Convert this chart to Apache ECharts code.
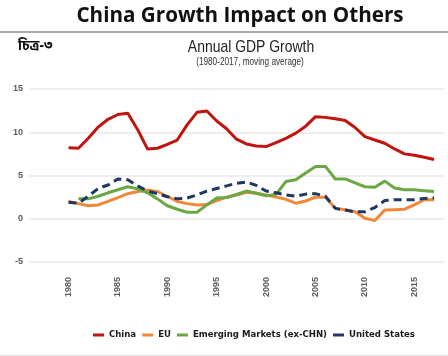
<!DOCTYPE html>
<html>
<head>
<meta charset="utf-8">
<script src="https://cdn.jsdelivr.net/npm/echarts@6/dist/echarts.min.js"></script>
<style>
html,body{margin:0;padding:0;background:#fff;}
#c{width:448px;height:356px;}
</style>
</head>
<body>
<div id="c"></div>
<script>
// ---- data ----
const years = [1980,1981,1982,1983,1984,1985,1986,1987,1988,1989,
               1990,1991,1992,1993,1994,1995,1996,1997,1998,1999,
               2000,2001,2002,2003,2004,2005,2006,2007,2008,2009,
               2010,2011,2012,2013,2014,2015,2016,2017];
const china = [8.2,8.15,9.3,10.6,11.5,12.05,12.2,10.3,8.05,8.15,
               8.6,9.1,10.85,12.3,12.45,11.3,10.4,9.2,8.65,8.4,
               8.35,8.8,9.3,9.9,10.7,11.8,11.72,11.57,11.35,10.55,
               9.5,9.1,8.73,8.07,7.5,7.35,7.1,6.84];
const eu = [2.0,1.75,1.5,1.6,2.0,2.45,2.9,3.15,3.3,3.15,
            2.6,2.0,1.75,1.6,1.65,2.1,2.5,2.75,3.05,2.95,
            2.75,2.5,2.25,1.8,2.05,2.5,2.5,1.2,1.05,0.8,
            0.05,-0.2,1.0,1.05,1.1,1.6,2.2,2.2];
const emerging = [null,2.3,2.3,2.6,3.0,3.35,3.7,3.45,3.0,2.3,
                  1.5,1.1,0.75,0.75,1.6,2.4,2.45,2.8,3.2,2.95,
                  2.65,2.8,4.3,4.5,5.3,6.05,6.05,4.6,4.6,4.15,
                  3.7,3.65,4.35,3.55,3.35,3.35,3.25,3.15];
const us = [1.9,1.8,2.6,3.5,3.9,4.6,4.5,3.8,3.2,2.9,
            2.55,2.3,2.4,2.75,3.2,3.5,3.8,4.1,4.25,3.85,
            3.2,3.0,2.75,2.6,2.85,2.9,2.6,1.2,1.0,0.8,
            0.8,1.3,2.1,2.2,2.2,2.2,2.35,2.4];
const xTickLabels = ['1980','1985','1990','1995','2000','2005','2010','2015'];
const yTicks = {min:-5, max:15, interval:5};
const seriesNames = ['China','EU','Emerging Markets (ex-CHN)','United States'];

// axis spans a little before the first and after the last year
const axisCats = [];
for (let y = years[0] - 4; y <= years[years.length - 1] + 1; y++) axisCats.push(String(y));
function pad(arr){
  const m = {};
  years.forEach((y,i)=>{ m[String(y)] = arr[i]; });
  return axisCats.map(c => (c in m) ? m[c] : null);
}

const SANS = "'Liberation Sans', Arial, sans-serif";
const COND = "'DejaVu Sans Condensed', 'Liberation Sans', sans-serif";
const chart = echarts.init(document.getElementById('c'));
chart.setOption({
  animation:false,
  backgroundColor:'#fff',
  grid:{left:29,right:4,top:89,bottom:94,containLabel:false,outerBoundsMode:'none'},
  xAxis:{
    type:'category', data:axisCats, boundaryGap:false,
    axisLine:{show:false}, axisTick:{show:false},
    axisLabel:{
      rotate:90, margin:15, fontSize:9, fontWeight:'bold', color:'#5a5a5a',
      fontFamily:SANS,
      interval:function(i,v){ return xTickLabels.indexOf(v) >= 0; }
    },
    splitLine:{show:false}
  },
  yAxis:{
    type:'value', min:yTicks.min, max:yTicks.max, interval:yTicks.interval,
    name:'%', nameLocation:'middle', nameGap:22, nameRotate:90,
    nameTextStyle:{fontSize:11, color:'#666', fontFamily:SANS},
    axisLine:{show:false}, axisTick:{show:false},
    axisLabel:{fontSize:9, fontWeight:'bold', color:'#5a5a5a', margin:6, fontFamily:SANS},
    splitLine:{lineStyle:{color:'#e8e8ee', width:1.5}}
  },
  legend:{
    data:seriesNames, left:93, top:330, width:440, padding:0, icon:'rect',
    itemWidth:11, itemHeight:3, itemGap:6,
    textStyle:{fontFamily:COND, fontWeight:'bold', fontSize:9.5, color:'#1a1a1a'}
  },
  series:[
    {name:seriesNames[0], type:'line', data:pad(china), symbol:'none', color:'#c0150f',
     lineStyle:{width:3, color:'#c0150f'}},
    {name:seriesNames[1], type:'line', data:pad(eu), symbol:'none', color:'#f0883a',
     lineStyle:{width:3, color:'#f0883a'}},
    {name:seriesNames[2], type:'line', data:pad(emerging), symbol:'none', color:'#6aa843',
     lineStyle:{width:3, color:'#6aa843'}},
    {name:seriesNames[3], type:'line', data:pad(us), symbol:'none', color:'#1f3763',
     lineStyle:{width:3, color:'#1f3763', type:[8,5]}}
  ],
  graphic:[
    {type:'text', x:240, y:16, scaleX:0.96, style:{text:'China Growth Impact on Others', textAlign:'center',
      textVerticalAlign:'middle', fill:'#111', font:"bold 21.5px 'Open Sans', sans-serif"}},
    {type:'line', shape:{x1:0,y1:32,x2:448,y2:32}, style:{stroke:'#8f8f8f', lineWidth:1.5}},
    {type:'text', x:18, y:47, style:{text:'চিত্র-৩', textAlign:'left', textVerticalAlign:'middle',
      fill:'#111', font:"bold 14px 'Noto Sans Bengali','Lohit Bengali','Noto Sans', sans-serif"}},
    {type:'text', x:251, y:47, scaleX:0.82, style:{text:'Annual GDP Growth', textAlign:'center',
      textVerticalAlign:'middle', fill:'#222', font:"17px " + SANS}},
    {type:'text', x:250, y:62, scaleX:0.82, style:{text:'(1980-2017, moving average)', textAlign:'center',
      textVerticalAlign:'middle', fill:'#333', font:"10px " + SANS}},
    {type:'line', shape:{x1:0,y1:355.5,x2:448,y2:355.5}, style:{stroke:'#e0e0e0', lineWidth:1}}
  ]
});
</script>
</body>
</html>
